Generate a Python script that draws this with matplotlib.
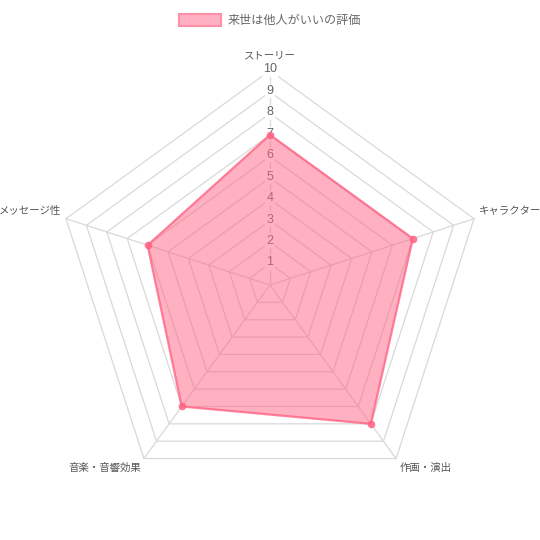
import numpy as np
import matplotlib.pyplot as plt
from matplotlib.patches import Patch

# データ
labels = ['ストーリー', 'キャラクター', '作画・演出', '音楽・音響効果', 'メッセージ性']
values = [7, 7, 8, 7, 6]
series_name = '来世は他人がいいの評価'
ticks = list(range(1, 11))
r_max = 10

plt.rcParams['font.family'] = ['Liberation Sans', 'Noto Sans CJK JP', 'DejaVu Sans']

fig = plt.figure(figsize=(5.4, 5.4), dpi=100)
ax = fig.add_axes([0, 0, 1, 1])
ax.set_axis_off()

# ピクセル → データ単位 (半径10 = 214.5px, 中心 (270, 285))
scale = 214.5 / r_max
ax.set_xlim(-270 / scale, 270 / scale)
ax.set_ylim(-255 / scale, 285 / scale)

n = len(labels)
ang = np.pi / 2 - np.arange(n) * 2 * np.pi / n
cx, cy = np.cos(ang), np.sin(ang)

grid_col = '#d9d9d9'
# 同心の多角形
for t in ticks:
    ax.plot(np.append(cx, cx[0]) * t, np.append(cy, cy[0]) * t,
            color=grid_col, lw=0.9, zorder=1)
# 放射線
for i in range(n):
    ax.plot([0, cx[i] * r_max], [0, cy[i] * r_max], color=grid_col, lw=0.9, zorder=1)

# 目盛りラベル
for t in ticks:
    ax.text(0, t + 0.05, str(t), ha='center', va='center', fontsize=9, color='#666666',
            zorder=2, bbox=dict(boxstyle='square,pad=0.1', fc='white', ec='none'))

# データ
v = np.array(values, dtype=float)
px, py = cx * v, cy * v
ax.fill(np.append(px, px[0]), np.append(py, py[0]), color='#ff6384', alpha=0.5,
        lw=0, zorder=3)
ax.plot(np.append(px, px[0]), np.append(py, py[0]), color='#ff6384', lw=1.6,
        alpha=0.8, zorder=4)
ax.plot(px, py, 'o', color='#ff6384', ms=4.5, alpha=0.8, zorder=5)

# 軸ラベル
lr = r_max + 0.25
for i, lab in enumerate(labels):
    x, y = cx[i] * lr, cy[i] * lr
    if abs(cx[i]) < 1e-6:
        ha = 'center'
        y += 0.2
    elif cx[i] > 0:
        ha = 'left'
    else:
        ha = 'right'
    va = 'bottom' if cy[i] > 0.5 else ('top' if cy[i] < -0.5 else 'center')
    if abs(cy[i]) <= 0.5:
        y += 0.3
    ax.text(x, y, lab, ha=ha, va=va, fontsize=7.5, color='#555555')

handle = Patch(facecolor='#ffb1c1', edgecolor='#ff8fa6', lw=1.5, label=series_name)
fig.legend(handles=[handle], loc='upper center', bbox_to_anchor=(0.5, 0.995),
           frameon=False, fontsize=8.7, handlelength=3.5, handleheight=1.2,
           handletextpad=0.5, labelcolor='#666666')

fig.savefig('out.png', dpi=100)
